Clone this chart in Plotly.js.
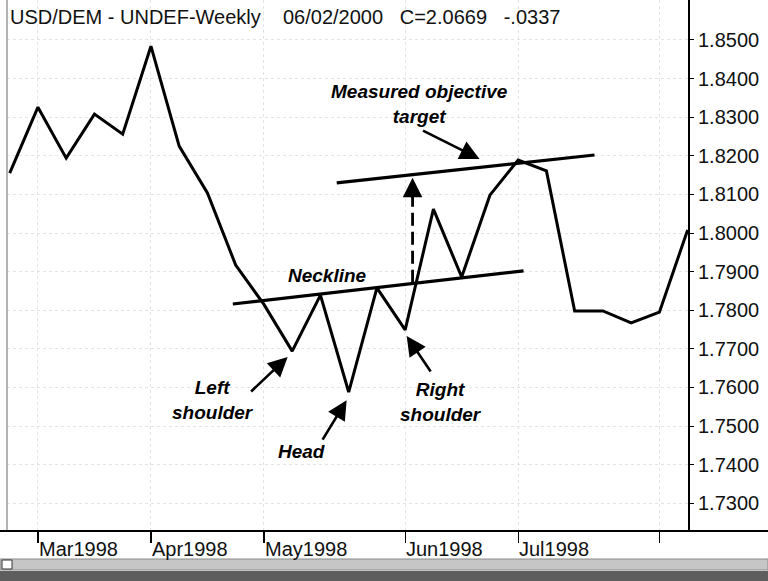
<!DOCTYPE html>
<html>
<head>
<meta charset="utf-8">
<script src="https://cdn.plot.ly/plotly-3.0.1.min.js"></script>
<style>html,body{margin:0;padding:0;background:#fff;}#chart{width:768px;height:581px;}</style>
</head>
<body>
<div id="chart"></div>
<script>
// Weekly USD/DEM closes
const weekDates = ['1998-02-27','1998-03-06','1998-03-13','1998-03-20','1998-03-27','1998-04-03','1998-04-10','1998-04-17','1998-04-24','1998-05-01','1998-05-08','1998-05-15','1998-05-22','1998-05-29','1998-06-05','1998-06-12','1998-06-19','1998-06-26','1998-07-03','1998-07-10','1998-07-17','1998-07-24','1998-07-31','1998-08-07','1998-08-14'];
const weekCloses = [1.8155,1.8326,1.8194,1.8308,1.8256,1.8484,1.8225,1.8104,1.7917,1.7815,1.7694,1.7839,1.7588,1.7858,1.7749,1.8062,1.7886,1.8098,1.8189,1.8161,1.7798,1.7798,1.7767,1.7795,1.8008];

const monthTickDates = ['1998-03-06','1998-04-03','1998-05-01','1998-06-05','1998-07-03','1998-08-07'];
const monthTickLabels = ['Mar1998','Apr1998','May1998','Jun1998','Jul1998',''];
const priceTicks = [1.73,1.74,1.75,1.76,1.77,1.78,1.79,1.80,1.81,1.82,1.83,1.84,1.85];

const titleText = 'USD/DEM - UNDEF-Weekly\u00a0\u00a0\u00a0\u00a006/02/2000\u00a0\u00a0\u00a0C=2.0669\u00a0\u00a0\u00a0-.0337';

// Hand-drawn study lines (date, price)
const necklineX = ['1998-04-23 07:00','1998-07-04 08:00'];
const necklineY = [1.7816,1.7902];
const targetX = ['1998-05-19 01:00','1998-07-21 22:00'];
const targetY = [1.8130,1.8202];
const measureX = '1998-06-06 20:00';
const measureY = [1.7871,1.8100];
const measureTipY = 1.8143;

const labelFont = {family:'Liberation Sans, Arial, sans-serif', size:19, color:'#000', weight:'bold', style:'italic'};
const axFont = {family:'Liberation Sans, Arial, sans-serif', size:20, color:'#111'};

const trace = {
  x: weekDates, y: weekCloses, type:'scatter', mode:'lines',
  line:{color:'#000', width:3}, cliponaxis:false, hoverinfo:'skip', showlegend:false
};

function lbl(text, x, y){
  return {text:text, x:x, y:y, xref:'x', yref:'y', showarrow:false, xanchor:'center', yanchor:'middle', align:'center', font:labelFont};
}
function arr(x, y, ax, ay){
  return {text:'', x:x, y:y, xref:'x', yref:'y', ax:ax, ay:ay, showarrow:true, arrowhead:2, arrowsize:1.5, arrowwidth:2.6, arrowcolor:'#000'};
}

const px = v => (v-7)/681;      // page chrome helpers in paper units
const py = v => (530-v)/530;

const annotations = [
  lbl('Measured objective<br>target','1998-06-08 14:00',1.8333),
  lbl('Neckline','1998-05-16 19:00',1.7891),
  lbl('Left<br>shoulder','1998-04-18 08:00',1.7567),
  lbl('Head','1998-05-10 09:00',1.7435),
  lbl('Right<br>shoulder','1998-06-14 00:00',1.7563),
  arr('1998-06-23 10:00',1.8192,-58,-29),
  arr('1998-05-06 21:00',1.7679,-38,36),
  arr('1998-05-21 12:00',1.7567,-25,41),
  arr('1998-06-05 09:00',1.7733,25,37),
  arr(measureX,measureTipY,0,22)
];

// month labels placed to the right of their ticks, as in the reference
monthTickDates.forEach((d,i)=>{
  if(!monthTickLabels[i]) return;
  annotations.push({text:monthTickLabels[i], x:d, xref:'x', y:py(548.5), yref:'paper', xanchor:'left', yanchor:'middle', xshift:-1, showarrow:false, font:axFont});
});

const shapes = [
  {type:'line', xref:'x', yref:'y', x0:necklineX[0], x1:necklineX[1], y0:necklineY[0], y1:necklineY[1], line:{color:'#000', width:3.2}},
  {type:'line', xref:'x', yref:'y', x0:targetX[0], x1:targetX[1], y0:targetY[0], y1:targetY[1], line:{color:'#000', width:3.2}},
  {type:'line', xref:'x', yref:'y', x0:measureX, x1:measureX, y0:measureY[0], y1:measureY[1], line:{color:'#000', width:2.8, dash:'13px,6px'}},
  {type:'line', xref:'paper', yref:'paper', x0:0, x1:0, y0:0, y1:1, line:{color:'#9a9a9a', width:1.5}},
  {type:'line', xref:'paper', yref:'paper', x0:px(0), x1:px(768), y0:py(531), y1:py(531), line:{color:'#000', width:2}},
  {type:'rect', xref:'paper', yref:'paper', x0:px(0), x1:px(768), y0:py(559), y1:py(570), fillcolor:'#c6c6c6', line:{color:'#8a8a8a', width:1}},
  {type:'rect', xref:'paper', yref:'paper', x0:px(2), x1:px(12), y0:py(560), y1:py(569), fillcolor:'#ffffff', line:{color:'#333', width:1}},
  {type:'rect', xref:'paper', yref:'paper', x0:px(0), x1:px(768), y0:py(571), y1:py(581), fillcolor:'#5e5e5e', line:{width:0}}
];

const layout = {
  width:768, height:581,
  margin:{l:7, r:80, t:0, b:51},
  paper_bgcolor:'#fff', plot_bgcolor:'#fff',
  title:{text:titleText, x:10/768, xanchor:'left', xref:'container', y:1-17/581, yref:'container', yanchor:'middle', font:{family:'Liberation Sans, Arial, sans-serif', size:20, color:'#111'}},
  xaxis:{
    type:'date', range:['1998-02-26 08:00','1998-08-14 02:00'],
    tickmode:'array', tickvals:monthTickDates, ticktext:monthTickLabels,
    showticklabels:false,
    ticks:'outside', ticklen:12, tickwidth:1.2, tickcolor:'#000',
    showgrid:true, gridcolor:'#e4e4e4', griddash:'dot', gridwidth:1,
    showline:false, zeroline:false, fixedrange:true
  },
  yaxis:{
    side:'right', range:[1.72306,1.86036],
    tickmode:'array', tickvals:priceTicks, tickformat:'.4f',
    ticks:'outside', ticklen:4, tickwidth:1, tickcolor:'#000',
    tickfont:axFont,
    showgrid:true, gridcolor:'#e4e4e4', griddash:'dot', gridwidth:1,
    showline:true, linecolor:'#000', linewidth:2, zeroline:false, fixedrange:true
  },
  shapes:shapes,
  annotations:annotations,
  showlegend:false
};

Plotly.newPlot('chart',[trace],layout,{displayModeBar:false, staticPlot:true});
</script>
</body>
</html>
